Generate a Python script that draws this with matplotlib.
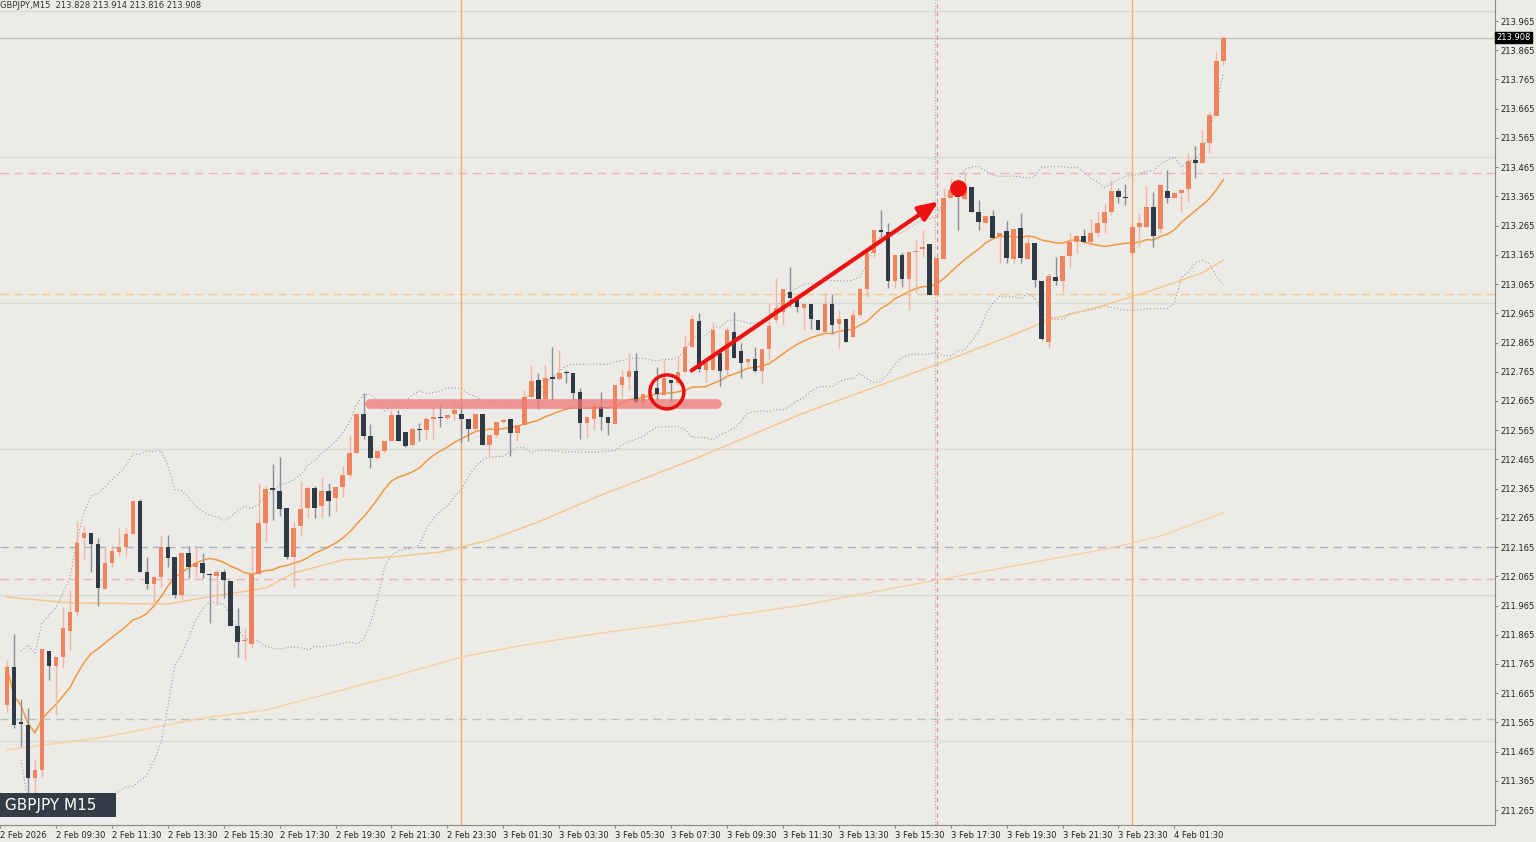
import numpy as np
import pandas as pd
import matplotlib
matplotlib.use("Agg")
import matplotlib.pyplot as plt
from matplotlib.patches import Ellipse

# GBPJPY M15 candles
opens = [211.625,211.755,211.566,211.556,211.375,211.402,211.809,211.758,211.789,211.878,
         211.943,212.196,212.213,212.175,212.021,212.110,212.148,212.165,212.210,212.323,
         212.080,212.039,212.063,212.165,212.131,212.001,212.145,212.097,212.110,212.073,
         212.066,212.080,212.049,211.895,211.843,211.833,212.073,212.247,212.367,212.357,
         212.299,212.131,212.237,212.299,212.367,212.305,212.357,212.333,212.371,212.412,
         212.487,212.620,212.545,212.470,212.494,212.528,212.617,212.559,212.514,212.569,
         212.566,212.603,212.610,212.607,212.620,212.620,212.603,212.569,212.620,212.514,
         212.548,212.593,212.603,212.555,212.583,212.678,212.737,212.672,212.747,212.740,
         212.764,212.761,212.696,212.589,212.603,212.644,212.610,212.586,212.720,212.747,
         212.767,212.661,212.668,212.709,212.685,212.737,212.726,212.764,212.850,212.939,
         212.771,212.771,212.829,212.771,212.901,212.836,212.798,212.809,212.767,212.843,
         212.942,212.969,213.038,213.017,212.983,212.997,212.942,212.901,212.997,212.928,
         212.945,212.884,212.959,213.048,213.171,213.250,213.243,213.075,213.164,213.082,
         213.175,213.185,213.202,213.028,213.151,213.359,213.387,213.356,213.397,213.312,
         213.274,213.298,213.229,213.247,213.151,213.257,213.151,213.205,213.075,212.867,
         213.089,213.075,213.161,213.209,213.229,213.209,213.240,213.274,213.312,213.383,
         213.363,213.171,213.260,213.260,213.329,213.253,213.383,213.359,213.377,213.390,
         213.489,213.479,213.548,213.640,213.828]
highs = [211.778,211.867,211.645,211.614,211.440,211.816,211.809,211.789,211.960,212.018,
         212.254,212.237,212.213,212.196,212.169,212.172,212.230,212.230,212.326,212.329,
         212.131,212.063,212.206,212.206,212.131,212.145,212.169,212.169,212.145,212.076,
         212.087,212.090,212.049,211.956,211.888,212.162,212.384,212.374,212.449,212.473,
         212.299,212.251,212.391,212.374,212.374,212.405,212.384,212.371,212.442,212.548,
         212.620,212.692,212.586,212.494,212.528,212.634,212.634,212.559,212.576,212.590,
         212.610,212.651,212.651,212.617,212.665,212.655,212.603,212.620,212.620,212.548,
         212.593,212.603,212.603,212.583,212.702,212.788,212.761,212.788,212.850,212.839,
         212.771,212.761,212.709,212.610,212.658,212.696,212.610,212.720,212.771,212.829,
         212.829,212.689,212.685,212.781,212.805,212.737,212.815,212.891,212.959,212.966,
         212.795,212.935,212.829,212.918,212.969,212.863,212.809,212.850,212.843,213.000,
         213.086,213.048,213.123,213.017,212.997,212.997,212.942,213.034,213.031,212.976,
         212.945,212.976,213.051,213.182,213.250,213.318,213.274,213.164,213.175,213.175,
         213.216,213.250,213.202,213.154,213.394,213.428,213.411,213.445,213.397,213.353,
         213.298,213.318,213.240,213.281,213.253,213.308,213.233,213.205,213.075,213.103,
         213.158,213.161,213.240,213.229,213.253,213.288,213.312,213.342,213.421,213.394,
         213.407,213.260,213.308,213.401,213.380,213.404,213.455,213.377,213.387,213.513,
         213.537,213.592,213.654,213.859,213.914]
lows = [211.601,211.546,211.481,211.310,211.317,211.378,211.710,211.590,211.751,211.813,
        211.932,212.121,212.080,211.963,212.021,212.093,212.134,212.134,212.210,212.080,
        212.021,211.977,212.028,212.097,211.991,211.984,212.059,212.063,212.059,211.905,
        211.967,211.991,211.895,211.789,211.778,211.819,212.073,212.182,212.258,212.271,
        212.124,212.028,212.206,212.264,212.264,212.264,212.271,212.285,212.336,212.405,
        212.487,212.535,212.436,212.463,212.487,212.528,212.528,212.507,212.514,212.528,
        212.535,212.535,212.576,212.600,212.600,212.521,212.528,212.569,212.514,212.473,
        212.541,212.590,212.477,212.528,212.583,212.678,212.637,212.668,212.668,212.737,
        212.726,212.668,212.535,212.538,212.566,212.566,212.548,212.586,212.678,212.702,
        212.658,212.644,212.651,212.668,212.685,212.661,212.720,212.764,212.850,212.764,
        212.730,212.771,212.716,212.747,212.812,212.743,212.781,212.764,212.726,212.805,
        212.932,212.925,212.986,212.969,212.908,212.911,212.908,212.901,212.894,212.846,
        212.867,212.884,212.952,213.021,213.158,213.223,213.051,213.051,213.055,212.976,
        213.034,213.158,213.028,213.028,213.151,213.359,213.250,213.353,213.312,213.250,
        213.274,213.223,213.137,213.137,213.137,213.137,213.151,213.055,212.874,212.846,
        213.062,213.038,213.123,213.171,213.205,213.209,213.226,213.240,213.301,213.342,
        213.335,213.171,213.192,213.260,213.192,213.240,213.342,213.359,213.312,213.346,
        213.428,213.479,213.513,213.640,213.816]
closes = [211.755,211.556,211.559,211.375,211.402,211.816,211.758,211.789,211.888,211.943,
          212.179,212.213,212.175,212.025,212.110,212.151,212.165,212.210,212.323,212.080,
          212.039,212.063,212.165,212.128,212.001,212.145,212.097,212.110,212.076,212.069,
          212.080,212.052,211.895,211.840,211.847,212.073,212.247,212.364,212.360,212.295,
          212.131,212.230,212.295,212.367,212.299,212.357,212.323,212.371,212.412,212.487,
          212.620,212.545,212.470,212.494,212.528,212.617,212.528,212.511,212.569,212.566,
          212.603,212.610,212.607,212.617,212.634,212.603,212.569,212.620,212.514,212.548,
          212.593,212.600,212.555,212.583,212.678,212.733,212.672,212.744,212.740,212.761,
          212.761,212.692,212.589,212.610,212.648,212.610,212.589,212.720,212.747,212.767,
          212.661,212.689,212.678,212.689,212.744,212.726,212.764,212.850,212.945,212.774,
          212.795,212.908,212.767,212.908,212.812,212.795,212.809,212.767,212.843,212.921,
          212.983,213.048,213.017,212.986,212.997,212.945,212.908,212.997,212.925,212.945,
          212.867,212.959,213.048,213.171,213.250,213.243,213.075,213.164,213.082,213.175,
          213.178,213.192,213.028,213.154,213.359,213.387,213.363,213.401,213.312,213.277,
          213.298,213.223,213.240,213.154,213.253,213.154,213.205,213.079,212.877,213.092,
          213.075,213.161,213.209,213.229,213.209,213.240,213.274,213.312,213.383,213.363,
          213.359,213.260,213.274,213.329,213.229,213.404,213.359,213.377,213.387,213.486,
          213.479,213.548,213.643,213.828,213.908]

# slower moving averages, read at a few candles
ma_mid_idx = [0, 9, 23, 28, 37, 41, 48, 55, 62, 69, 76, 85, 98, 114, 132, 145, 149, 156, 164, 171, 174]
ma_mid_val = [211.994, 211.974, 211.970, 211.991, 212.025, 212.076, 212.121, 212.131, 212.148, 212.189,
              212.251, 212.343, 212.463, 212.624, 212.781, 212.901, 212.942, 212.986, 213.045, 213.103, 213.147]
ma_slow_idx = [0, 14, 28, 37, 56, 65, 74, 85, 99, 114, 133, 158, 165, 174]
ma_slow_val = [211.471, 211.515, 211.580, 211.607, 211.727, 211.789, 211.830, 211.871, 211.915, 211.967,
               212.052, 212.162, 212.203, 212.282]

time_labels = ["2 Feb 2026", "2 Feb 09:30", "2 Feb 11:30", "2 Feb 13:30", "2 Feb 15:30", "2 Feb 17:30",
               "2 Feb 19:30", "2 Feb 21:30", "2 Feb 23:30", "3 Feb 01:30", "3 Feb 03:30", "3 Feb 05:30",
               "3 Feb 07:30", "3 Feb 09:30", "3 Feb 11:30", "3 Feb 13:30", "3 Feb 15:30", "3 Feb 17:30",
               "3 Feb 19:30", "3 Feb 21:30", "3 Feb 23:30", "4 Feb 01:30"]
level_lines = [(213.445, "#e8b4c4"), (213.031, "#f5c98a"), (212.165, "#aab0c0"),
               (212.056, "#e8b4c4"), (211.577, "#b8c8b8")]
last_price = 213.908

BG = "#ecebe7"
BULL = "#f0845c"
BEAR = "#2f3a45"
YMIN, YMAX = 211.214, 214.037
XMIN, XMAX = -0.714, 212.86

fig = plt.figure(figsize=(15.36, 8.42), dpi=100, facecolor=BG)
ax = fig.add_axes([0, 17 / 842, 1495 / 1536, 825 / 842])
ax.set_facecolor(BG)

n = len(closes)
x = np.arange(n)
o = np.array(opens); c = np.array(closes); h = np.array(highs); l = np.array(lows)
up = c >= o

# half levels and horizontal lines
for lv in [211.5, 212.0, 212.5, 213.0, 213.5, 214.0]:
    ax.axhline(lv, color="#dcdad6", lw=1, zorder=0)
for lv, col in level_lines:
    ax.axhline(lv, color=col, lw=1, ls=(0, (6, 4)), zorder=1)
ax.axhline(last_price, color="#c4c2be", lw=1, zorder=1)

ax.axvline(65, color="#f5b060", lw=1, zorder=1)
ax.axvline(161, color="#f5b060", lw=1, zorder=1)
ax.axvline(132.7, color="#b0b0b8", lw=0.8, ls=":", zorder=1)
ax.axvline(133.1, color="#e88a9a", lw=0.8, ls=(0, (4, 3)), zorder=1)

# indicators
cs = pd.Series(c)
ma20 = cs.rolling(20, min_periods=1).mean()
sd = cs.rolling(20, min_periods=3).std(ddof=0)
ax.plot(x, ma20, color="#f09a40", lw=1.1, zorder=3)
ax.plot(x, ma20 + 2 * sd, color="#9a9ab0", lw=0.8, ls=(0, (1, 2)), zorder=3)
ax.plot(x, ma20 - 2 * sd, color="#9a9ab0", lw=0.8, ls=(0, (1, 2)), zorder=3)
ax.plot(ma_mid_idx, ma_mid_val, color="#f8c488", lw=1, zorder=3)
ax.plot(ma_slow_idx, ma_slow_val, color="#f8d0a4", lw=1, zorder=3)

# candles
ax.vlines(x[up], l[up], h[up], color="#f4b4a0", lw=1, zorder=4)
ax.vlines(x[~up], l[~up], h[~up], color="#8a8e92", lw=1, zorder=4)
body = np.maximum(np.abs(c - o), 0.004)
bot = np.minimum(o, c)
ax.bar(x[up], body[up], bottom=bot[up], width=0.65, color=BULL, zorder=5)
ax.bar(x[~up], body[~up], bottom=bot[~up], width=0.65, color=BEAR, zorder=5)

# annotations
ax.plot([52, 101.5], [212.655, 212.655], color="#f07878", lw=7, alpha=0.75,
        solid_capstyle="round", zorder=6)
px_x = 1495 / (XMAX - XMIN)
px_y = 825 / (YMAX - YMIN)
ax.add_patch(Ellipse((94.4, 212.696), 34 / px_x, 34 / px_y, fill=False, ec="#e81010", lw=2.5, zorder=7))
ax.annotate("", xy=(133.6, 213.353), xytext=(97.6, 212.764),
            arrowprops=dict(arrowstyle="-|>,head_length=1.2,head_width=0.5", color="#ee1111", lw=3),
            zorder=7)
ax.plot(136.1, 213.394, "o", color="#ee1111", ms=11, zorder=7)

ax.set_xlim(XMIN, XMAX)
ax.set_ylim(YMIN, YMAX)

ax.yaxis.tick_right()
ticks = np.round(np.arange(211.265, 213.97, 0.1), 3)
ax.set_yticks(ticks)
ax.set_yticklabels([f"{t:.3f}" for t in ticks])
ax.set_xticks([8 * k - 1 for k in range(len(time_labels))])
ax.set_xticklabels(time_labels, ha="left")
ax.tick_params(axis="both", labelsize=6, colors="#222222", length=2, color="#888888", pad=2)
for s in ["top", "left"]:
    ax.spines[s].set_visible(False)
ax.spines["right"].set_color("#888888")
ax.spines["bottom"].set_color("#888888")

ax.text(1.001, (last_price - YMIN) / (YMAX - YMIN), f"{last_price:.3f}",
        transform=ax.transAxes, fontsize=6, color="white", va="center", ha="left",
        bbox=dict(boxstyle="square,pad=0.15", fc="black", ec="black"), zorder=10)
ax.text(0.0, 0.999, "GBPJPY,M15  213.828 213.914 213.816 213.908", transform=ax.transAxes,
        fontsize=6, color="#333333", va="top", ha="left")
ax.text(0.0, 0.015, " GBPJPY M15   ", transform=ax.transAxes, fontsize=11, color="white",
        va="bottom", ha="left", bbox=dict(boxstyle="square,pad=0.3", fc="#333d47", ec="none"), zorder=10)

fig.savefig("out.png", dpi=100, facecolor=BG)
